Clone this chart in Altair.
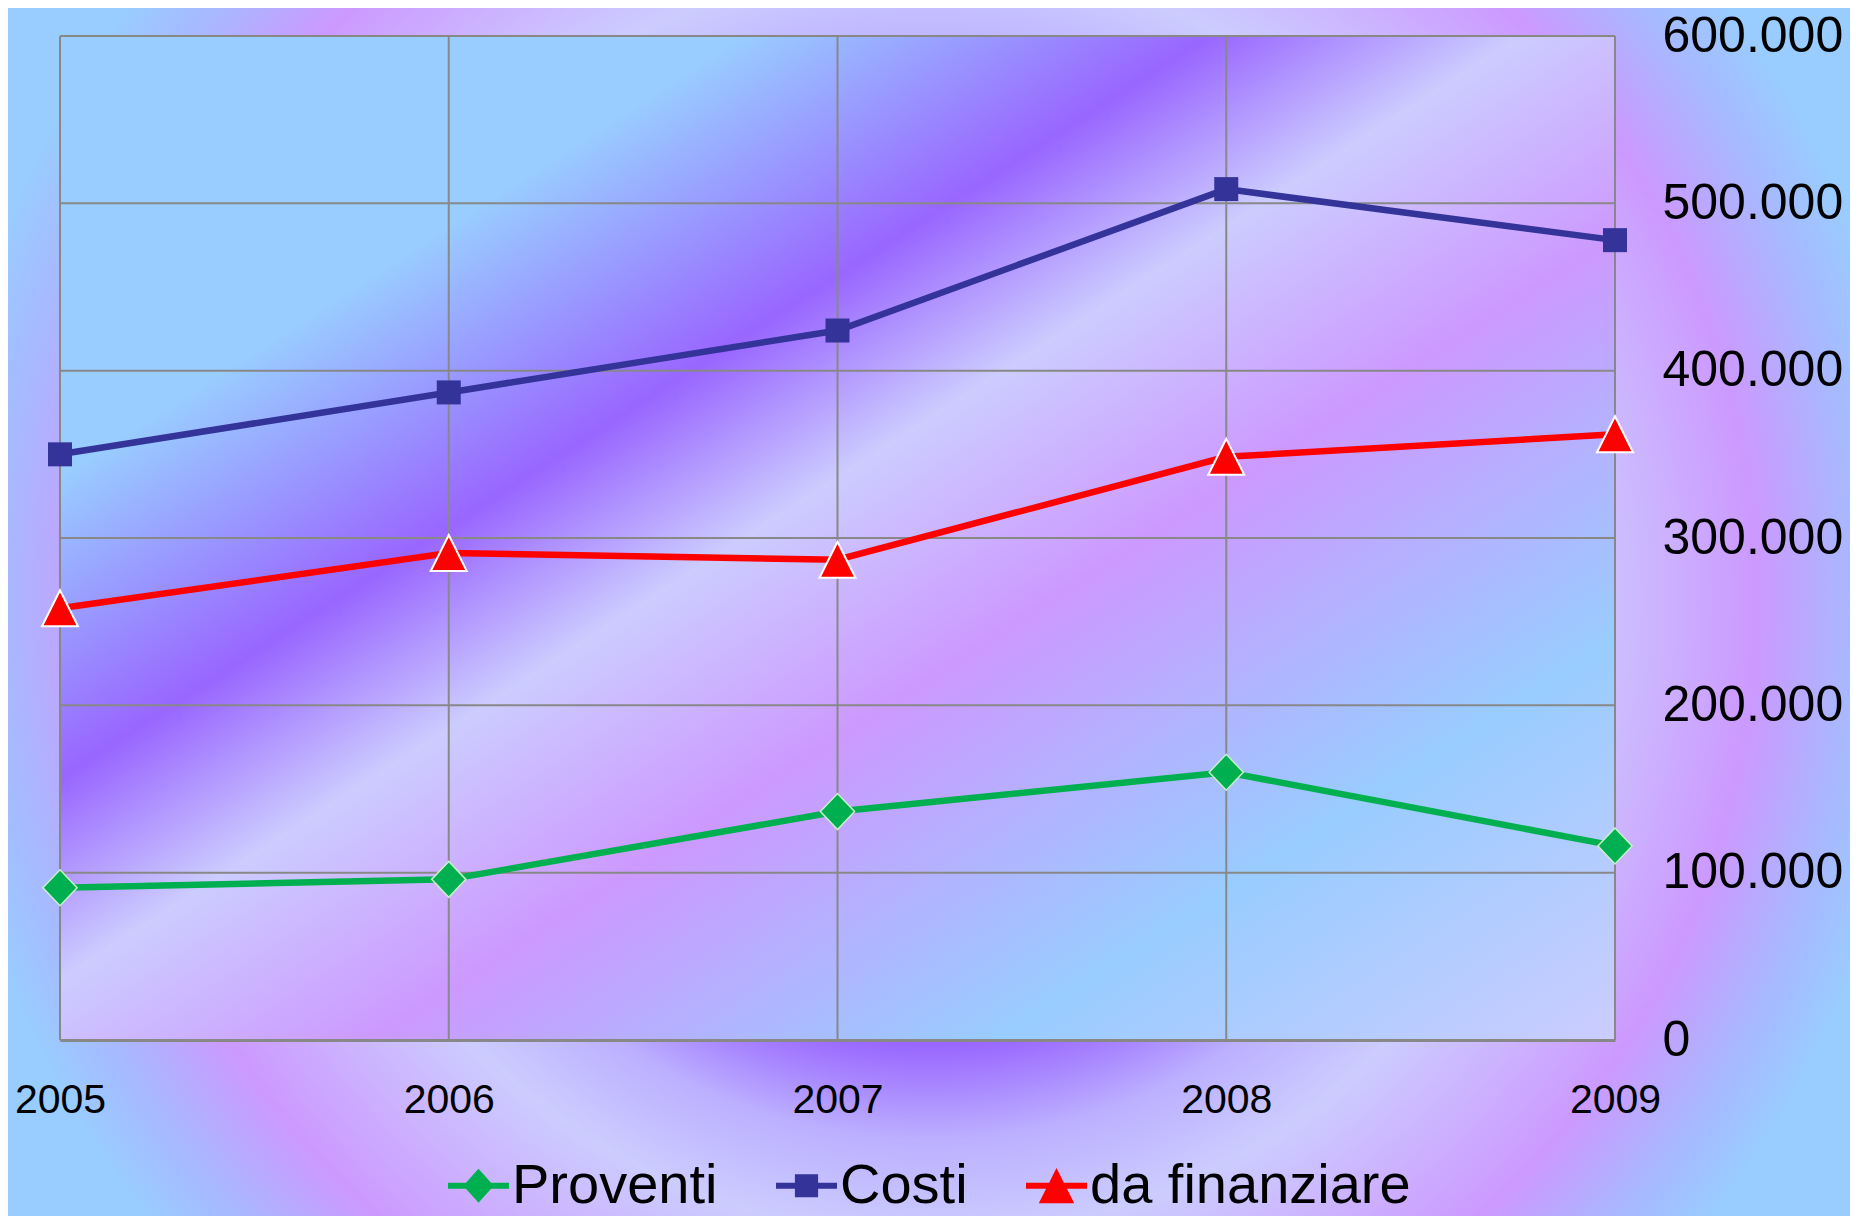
import altair as alt
import pandas as pd

# ---- data ----
years = ["2005", "2006", "2007", "2008", "2009"]
proventi = [91000, 96000, 136500, 160000, 116000]
costi = [350000, 387000, 424000, 508500, 478000]
da_finanziare = [258000, 291000, 287000, 348500, 362000]
series_names = ["Proventi", "Costi", "da finanziare"]
series_colors = ["#00b050", "#333399", "#ff0000"]
y_ticks = [0, 100000, 200000, 300000, 400000, 500000, 600000]

# ---- layout (pixels) ----
W, H = 1555, 1004
PAD = {"left": 52, "top": 28, "right": 235, "bottom": 176}
FONT = "Liberation Sans"

df = pd.DataFrame({"year": years, "Proventi": proventi, "Costi": costi,
                   "da finanziare": da_finanziare})
one = pd.DataFrame({"k": [0]})

x_axis = alt.Axis(title=None, labelAngle=0, labelFontSize=41, labelFont=FONT,
                  labelColor="black", labelPadding=60, labelBaseline="middle",
                  ticks=False, tickSize=0, domainColor="#888888", domainWidth=3,
                  grid=False, zindex=1, labelLimit=400)
y_axis = alt.Axis(title=None, orient="right", values=y_ticks,
                  labelExpr="datum.value == 0 ? '0' : format(datum.value / 1000, 'd') + '.000'",
                  labelFontSize=50, labelFont=FONT, labelColor="black",
                  labelAlign="left", labelBaseline="middle", labelPadding=47,
                  labelLimit=400, ticks=False, tickSize=0, domain=False,
                  grid=False, zindex=1)
x_scale = alt.Scale(type="point", padding=0)
y_scale = alt.Scale(domain=[0, 600000], nice=False, zero=True)


def X():
    return alt.X("year:O", scale=x_scale, axis=x_axis)


def Y(field):
    return alt.Y(f"{field}:Q", scale=y_scale, axis=y_axis)


def stop(c, o):
    return alt.GradientStop(color=c, offset=o)


outer_grad = alt.RadialGradient(
    gradient="radial", x1=0.5, y1=0.5, r1=0, x2=0.5, y2=0.5, r2=0.5,
    stops=[stop("#c8c0ff", 0), stop("#a88cff", 0.30), stop("#9966ff", 0.37),
           stop("#bcb0ff", 0.45), stop("#ccccff", 0.53), stop("#cc99ff", 0.69),
           stop("#a8b8ff", 0.77), stop("#99ccff", 0.83), stop("#99ccff", 1.0)])

plot_grad = alt.LinearGradient(
    gradient="linear", x1=0, y1=0, x2=1, y2=1,
    stops=[stop("#99ccff", 0), stop("#99ccff", 0.22), stop("#9966ff", 0.37),
           stop("#ccccff", 0.47), stop("#cc99ff", 0.60), stop("#99ccff", 0.80),
           stop("#ccccff", 1.0)])

outer_bg = alt.Chart(one).mark_rect(fill=outer_grad).encode(
    x=alt.value(-331), x2=alt.value(2069), y=alt.value(-636), y2=alt.value(1764))

plot_bg = alt.Chart(one).mark_rect(fill=plot_grad).encode(
    x=alt.value(0), x2=alt.value(W), y=alt.value(0), y2=alt.value(H))

hgrid = alt.Chart(pd.DataFrame({"v": y_ticks})).mark_rule(
    color="#888888", strokeWidth=2).encode(y=Y("v"))
vgrid = alt.Chart(pd.DataFrame({"year": years})).mark_rule(
    color="#888888", strokeWidth=2).encode(x=X())

LW = 6.5
line_p = alt.Chart(df).mark_line(color=series_colors[0], strokeWidth=LW).encode(x=X(), y=Y("Proventi"))
line_c = alt.Chart(df).mark_line(color=series_colors[1], strokeWidth=LW).encode(x=X(), y=Y("Costi"))
line_f = alt.Chart(df).mark_line(color=series_colors[2], strokeWidth=LW).encode(x=X(), y=Y("da finanziare"))

diamond_path = "M0,-1L0.95,0L0,1L-0.95,0Z"
triangle_path = "M0,-1L1,1L-1,1Z"

pts_p = alt.Chart(df).mark_point(shape=diamond_path, filled=True, size=1296, opacity=1,
                                 fill=series_colors[0], stroke="#c8f0c8", strokeWidth=1.5
                                 ).encode(x=X(), y=Y("Proventi"))
pts_c = alt.Chart(df).mark_point(shape="square", filled=True, size=576, opacity=1,
                                 fill=series_colors[1], strokeWidth=0
                                 ).encode(x=X(), y=Y("Costi"))
pts_f = alt.Chart(df).mark_point(shape=triangle_path, filled=True, size=1296, opacity=1,
                                 fill=series_colors[2], stroke="white", strokeWidth=2
                                 ).encode(x=X(), y=Y("da finanziare"))

# legend symbols: line segment + marker
bar = "M-1,-0.1H1V0.1H-1Z"
legend_shapes = [
    bar + " M0,-0.56L0.5,0L0,0.56L-0.5,0Z",
    bar + " M-0.38,-0.38H0.38V0.38H-0.38Z",
    bar + " M0,-0.58L0.58,0.57H-0.58Z",
]
leg = alt.Legend(orient="none", legendX=388, legendY=1119, direction="horizontal",
                 columns=3, title=None, labelFontSize=56, labelFont=FONT,
                 labelColor="black", labelOffset=3, columnPadding=58,
                 symbolSize=3721, symbolStrokeWidth=0, padding=0, labelLimit=1000,
                 symbolOpacity=1)
legend_layer = alt.Chart(pd.DataFrame({"s": series_names})).transform_filter("false").mark_point(
    filled=True, opacity=1).encode(
    color=alt.Color("s:N", scale=alt.Scale(domain=series_names, range=series_colors), legend=leg),
    shape=alt.Shape("s:N", scale=alt.Scale(domain=series_names, range=legend_shapes), legend=leg),
)

chart = alt.layer(
    outer_bg, plot_bg, hgrid, vgrid, line_p, line_c, line_f, pts_p, pts_c, pts_f, legend_layer
).properties(
    width=W, height=H, padding=PAD, background="#a8b8ff",
    autosize=alt.AutoSizeParams(type="none"),
).configure_view(stroke="transparent")

chart.save("out.html", embed_options={"renderer": "svg", "actions": False})
